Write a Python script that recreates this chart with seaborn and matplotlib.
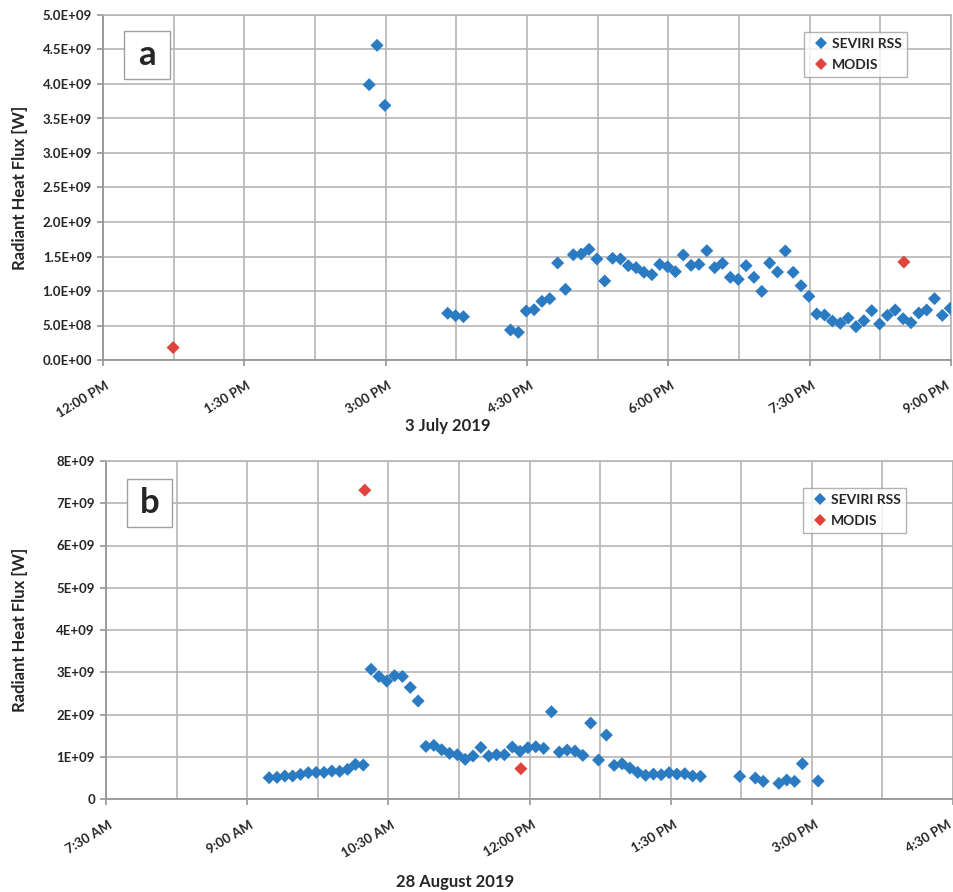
import numpy as np
import pandas as pd
import matplotlib
matplotlib.use("Agg")
import matplotlib.pyplot as plt
import matplotlib.dates as mdates
import matplotlib.transforms as mtransforms
from matplotlib.ticker import MultipleLocator
from matplotlib.lines import Line2D
from matplotlib.patches import Rectangle
import seaborn as sns

# ---------------- data ----------------
date_a = "2019-07-03"
seviri_a_times = [
    "14:49:30", "14:54:30", "14:59:30",
    "15:39:30", "15:44:30", "15:49:30",
    "16:19:30", "16:24:30", "16:29:30", "16:34:30", "16:39:30", "16:44:30",
    "16:49:30", "16:54:30", "16:59:30", "17:04:30", "17:09:30", "17:14:30",
    "17:19:30", "17:24:30", "17:29:30", "17:34:30", "17:39:30", "17:44:30",
    "17:49:30", "17:54:30", "17:59:30", "18:04:30", "18:09:30", "18:14:30",
    "18:19:30", "18:24:30", "18:29:30", "18:34:30", "18:39:30", "18:44:30",
    "18:49:30", "18:54:30", "18:59:30", "19:04:30", "19:09:30", "19:14:30",
    "19:19:30", "19:24:30", "19:29:30", "19:34:30", "19:39:30", "19:44:30",
    "19:49:30", "19:54:30", "19:59:30", "20:04:30", "20:09:30", "20:14:30",
    "20:19:30", "20:24:30", "20:29:30", "20:34:30", "20:39:30", "20:44:30",
    "20:49:30", "20:54:30", "20:59:30",
]
seviri_a_flux = [
    3.99e9, 4.56e9, 3.69e9,
    0.677e9, 0.642e9, 0.628e9,
    0.435e9, 0.401e9, 0.71e9, 0.729e9, 0.85e9, 0.889e9,
    1.406e9, 1.024e9, 1.526e9, 1.536e9, 1.604e9, 1.464e9,
    1.145e9, 1.474e9, 1.464e9, 1.367e9, 1.338e9, 1.271e9,
    1.237e9, 1.386e9, 1.352e9, 1.28e9, 1.522e9, 1.372e9,
    1.386e9, 1.584e9, 1.338e9, 1.401e9, 1.198e9, 1.169e9,
    1.367e9, 1.198e9, 0.995e9, 1.406e9, 1.275e9, 1.58e9,
    1.271e9, 1.077e9, 0.923e9, 0.667e9, 0.652e9, 0.565e9,
    0.532e9, 0.609e9, 0.483e9, 0.57e9, 0.715e9, 0.522e9,
    0.647e9, 0.725e9, 0.599e9, 0.541e9, 0.681e9, 0.725e9,
    0.889e9, 0.647e9, 0.749e9,
]
modis_a_times = ["12:44:40", "20:30:00"]
modis_a_flux = [0.18e9, 1.42e9]

date_b = "2019-08-28"
seviri_b_times = [
    "09:14", "09:19", "09:24", "09:29", "09:34", "09:39", "09:44", "09:49",
    "09:54", "09:59", "10:04", "10:09", "10:14",
    "10:19", "10:24", "10:29", "10:34", "10:39", "10:44", "10:49",
    "10:54", "10:59", "11:04", "11:09", "11:14", "11:19", "11:24", "11:29",
    "11:34", "11:39", "11:44", "11:49", "11:54", "11:59", "12:04", "12:09",
    "12:14", "12:19", "12:24", "12:29", "12:34", "12:39", "12:44", "12:49",
    "12:54", "12:59", "13:04", "13:09", "13:14", "13:19", "13:24", "13:29",
    "13:34", "13:39", "13:44", "13:49",
    "14:14", "14:24", "14:29", "14:39", "14:44", "14:49", "14:54", "15:04",
]
seviri_b_flux = [
    0.504e9, 0.512e9, 0.544e9, 0.544e9, 0.583e9, 0.623e9, 0.630e9, 0.630e9,
    0.662e9, 0.654e9, 0.701e9, 0.820e9, 0.804e9,
    3.07e9, 2.90e9, 2.79e9, 2.92e9, 2.90e9, 2.64e9, 2.32e9,
    1.245e9, 1.27e9, 1.166e9, 1.08e9, 1.048e9, 0.938e9, 1.017e9, 1.22e9,
    1.017e9, 1.048e9, 1.048e9, 1.23e9, 1.127e9, 1.214e9, 1.237e9, 1.198e9,
    2.065e9, 1.111e9, 1.158e9, 1.135e9, 1.032e9, 1.797e9, 0.922e9, 1.513e9,
    0.796e9, 0.835e9, 0.733e9, 0.63e9, 0.56e9, 0.59e9, 0.575e9, 0.623e9,
    0.59e9, 0.599e9, 0.544e9, 0.536e9,
    0.536e9, 0.496e9, 0.418e9, 0.37e9, 0.449e9, 0.418e9, 0.835e9, 0.426e9,
]
modis_b_times = ["10:15", "11:54:30"]
modis_b_flux = [7.31e9, 0.717e9]

series_names = ["SEVIRI RSS", "MODIS"]
date_labels = ["3 July 2019", "28 August 2019"]
panel_letters = ["a", "b"]
xticks_a = ["12:00", "13:30", "15:00", "16:30", "18:00", "19:30", "21:00"]
xticks_b = ["07:30", "09:00", "10:30", "12:00", "13:30", "15:00", "16:30"]
yticks_a = [0, 0.5e9, 1.0e9, 1.5e9, 2.0e9, 2.5e9, 3.0e9, 3.5e9, 4.0e9, 4.5e9, 5.0e9]
yticks_b = [0, 1e9, 2e9, 3e9, 4e9, 5e9, 6e9, 7e9, 8e9]

# ---------------- style ----------------
BLUE = "#2A7BC2"
RED = "#E0423C"
GRID = "#b5b5b5"
AXIS = "#969696"
FONT = ["Lato", "DejaVu Sans"]

sns.set_style("white")
plt.rcParams["font.family"] = FONT


def make_df(date, s_times, s_flux, m_times, m_flux):
    t = [pd.Timestamp(f"{date} {x}") for x in s_times] + \
        [pd.Timestamp(f"{date} {x}") for x in m_times]
    f = list(s_flux) + list(m_flux)
    s = [series_names[0]] * len(s_times) + [series_names[1]] * len(m_times)
    return pd.DataFrame({"time": t, "flux": f, "series": s})


def time_fmt(ts):
    h = ts.hour % 12
    if h == 0:
        h = 12
    ap = "AM" if ts.hour < 12 else "PM"
    return f"{h}:{ts.minute:02d} {ap}"


fig = plt.figure(figsize=(9.54, 8.92), dpi=100)
W, H = 954, 892

panels = [
    dict(rect=(103, 15, 951, 360), df=make_df(date_a, seviri_a_times, seviri_a_flux, modis_a_times, modis_a_flux),
         date=date_a, xticks=xticks_a, yticks=yticks_a, yfmt=lambda v: f"{v:.1E}",
         label=date_labels[0], label_xy=(448, 426), letter=panel_letters[0],
         box=(124, 31, 170, 79), leg=(907, 32)),
    dict(rect=(106, 461, 953, 799), df=make_df(date_b, seviri_b_times, seviri_b_flux, modis_b_times, modis_b_flux),
         date=date_b, xticks=xticks_b, yticks=yticks_b, yfmt=lambda v: "0" if v == 0 else f"{v:.0E}",
         label=date_labels[1], label_xy=(455, 882), letter=panel_letters[1],
         box=(127, 479, 172, 527), leg=(906, 488)),
]

for P in panels:
    x0, y0, x1, y1 = P["rect"]
    ax = fig.add_axes([x0 / W, 1 - y1 / H, (x1 - x0) / W, (y1 - y0) / H])
    sns.scatterplot(data=P["df"], x="time", y="flux", hue="series",
                    palette={series_names[0]: BLUE, series_names[1]: RED},
                    marker="D", s=44, linewidth=0, legend=False, ax=ax,
                    zorder=3, clip_on=True)
    tick_ts = [pd.Timestamp(f"{P['date']} {t}") for t in P["xticks"]]
    tick_num = [mdates.date2num(t) for t in tick_ts]
    ax.set_xlim(tick_num[0], tick_num[-1])
    ax.set_ylim(P["yticks"][0], P["yticks"][-1])
    ax.set_xticks(tick_num)
    ax.set_xticklabels([time_fmt(t) for t in tick_ts], rotation=31, ha="right",
                       rotation_mode="anchor", fontweight="bold", fontsize=9.5)
    ax.xaxis.set_minor_locator(MultipleLocator(0.75 / 24))
    ax.set_yticks(P["yticks"])
    ax.set_yticklabels([P["yfmt"](v) for v in P["yticks"]], fontweight="bold", fontsize=9.5)
    ax.grid(True, which="both", axis="x", color=GRID, lw=1.2, zorder=0)
    ax.grid(True, which="major", axis="y", color=GRID, lw=1.2, zorder=0)
    ax.set_axisbelow(True)
    for side in ["top", "right"]:
        ax.spines[side].set_color(GRID)
        ax.spines[side].set_linewidth(1.2)
    for side in ["left", "bottom"]:
        ax.spines[side].set_color(AXIS)
        ax.spines[side].set_linewidth(1.3)
    ax.tick_params(axis="both", which="major", length=4, width=1.2, color=AXIS,
                   direction="out", bottom=True, left=True)
    ax.tick_params(axis="x", which="minor", length=0)
    ax.tick_params(axis="y", pad=4)
    ax.tick_params(axis="x", pad=10)
    ax.set_xlabel("")
    ax.set_ylabel("Radiant Heat Flux [W]", fontsize=12, fontweight="bold")
    ax.yaxis.set_label_coords(-(x0 - 28) / (x1 - x0), 0.5)

    # small horizontal nudge of the tick labels; keep the last one inside the image
    xlabs = ax.get_xticklabels()
    for i, lab in enumerate(xlabs):
        dx = -6 if i == len(xlabs) - 1 else 2
        lab.set_transform(lab.get_transform() +
                          mtransforms.ScaledTranslation(dx / 100, 0, fig.dpi_scale_trans))

    # legend
    handles = [Line2D([], [], marker="D", ls="", color=BLUE, markersize=6.5, markeredgewidth=0),
               Line2D([], [], marker="D", ls="", color=RED, markersize=6.5, markeredgewidth=0)]
    lx, ly = P["leg"]
    leg = ax.legend(handles, series_names, loc="upper right",
                    bbox_to_anchor=((lx - x0) / (x1 - x0), (y1 - ly) / (y1 - y0)),
                    borderaxespad=0, frameon=True, fancybox=False,
                    prop=dict(family=FONT, weight="bold", size=10),
                    handletextpad=-0.1, handlelength=1.65, borderpad=0.4,
                    labelspacing=0.7)
    leg.get_frame().set_edgecolor("#a0a0a0")
    leg.get_frame().set_linewidth(1.0)
    leg.set_zorder(5)

    # panel letter box
    bx0, by0, bx1, by1 = P["box"]
    rect = Rectangle(((bx0 - x0) / (x1 - x0), (y1 - by1) / (y1 - y0)),
                     (bx1 - bx0) / (x1 - x0), (by1 - by0) / (y1 - y0),
                     transform=ax.transAxes, facecolor="white",
                     edgecolor="#a0a0a0", lw=1.0, zorder=5)
    ax.add_patch(rect)
    ax.text(((bx0 + bx1) / 2 - x0) / (x1 - x0), (y1 - (by0 + by1) / 2) / (y1 - y0),
            P["letter"], transform=ax.transAxes, ha="center", va="center",
            fontsize=25, fontweight="bold", zorder=6)

    fig.text(P["label_xy"][0] / W, 1 - P["label_xy"][1] / H, P["label"],
             ha="center", va="center", fontsize=12, fontweight="bold")

fig.savefig("out.png", dpi=100, facecolor="white")
